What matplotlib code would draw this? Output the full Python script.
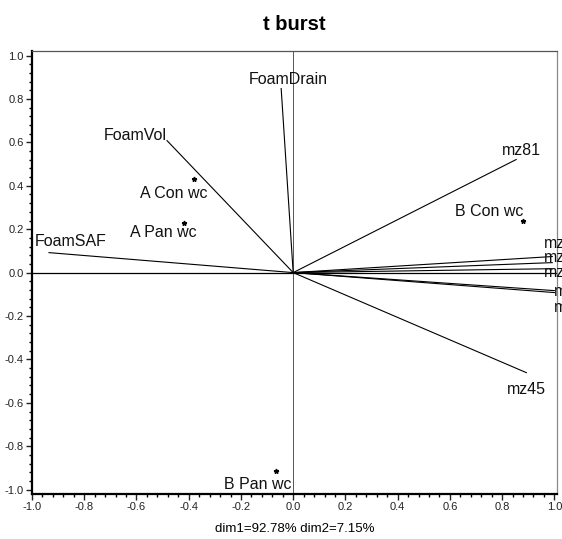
import numpy as np
import matplotlib
matplotlib.use('Agg')
from matplotlib import pyplot as plt
from matplotlib.ticker import MultipleLocator
plt.rcParams['font.family'] = ['Liberation Sans', 'DejaVu Sans']

# Vectores (cargas)
vec_names = ['FoamDrain', 'FoamVol', 'FoamSAF', 'mz81', 'mz45',
             'mz43', 'mz57', 'mz55', 'mz41', 'mz39']
vec_x = [-0.046, -0.483, -0.935, 0.854, 0.893, 0.992, 0.992, 0.992, 1.0, 1.0]
vec_y = [0.848, 0.608, 0.092, 0.521, -0.461, 0.074, 0.046, 0.018, -0.083, -0.092]

# Observaciones
obs_names = ['A Con wc', 'A Pan wc', 'B Con wc', 'B Pan wc']
obs_x = [-0.379, -0.418, 0.88, -0.065]
obs_y = [0.433, 0.23, 0.24, -0.912]

# desplazamientos de etiquetas (pixeles) y alineacion
vec_off = [(7, 5), (0, 1), (-14, 7), (5, 5), (0, -21),
           (-8, 9), (-8, 1), (-8, -8), (0, -5), (0, -19)]
vec_ha = ['center', 'right', 'left', 'center', 'center',
          'left', 'left', 'left', 'left', 'left']
obs_off = [(13, -19), (13, -14), (0, 5), (15, -18)]

fig = plt.figure(figsize=(5.62, 5.39), dpi=100)
ax = fig.add_axes([0.057, 0.0835, 0.934, 0.8215])

ax.axhline(0, color='black', lw=0.9, zorder=1)
ax.axvline(0, color='#555555', lw=0.7, zorder=1)

for i in range(len(vec_names)):
    ax.plot([0, vec_x[i]], [0, vec_y[i]], color='black', lw=0.8)
    ax.annotate(vec_names[i], (vec_x[i], vec_y[i]), xytext=vec_off[i],
                textcoords='offset pixels', ha=vec_ha[i], va='baseline',
                fontsize=11.5, color='#111111', annotation_clip=False)

ax.plot(obs_x, obs_y, ls='none', marker='*', ms=3.5, color='black')
for i in range(len(obs_names)):
    ax.annotate(obs_names[i], (obs_x[i], obs_y[i]), xytext=obs_off[i],
                textcoords='offset pixels', ha='right', va='baseline',
                fontsize=11.5, color='#111111')

ax.set_xlim(-1.0, 1.01)
ax.set_ylim(-1.02, 1.02)
ax.xaxis.set_minor_locator(MultipleLocator(0.04))
ax.yaxis.set_minor_locator(MultipleLocator(0.04))
ax.set_xticks(np.arange(-1.0, 1.01, 0.2))
ax.set_yticks(np.arange(-1.0, 1.01, 0.2))
ax.xaxis.set_major_formatter(lambda v, p: '%.1f' % (0.0 if abs(v) < 1e-9 else v))
ax.yaxis.set_major_formatter(lambda v, p: '%.1f' % (0.0 if abs(v) < 1e-9 else v))
ax.tick_params(which='major', direction='out', length=4, width=1.0,
               labelsize=8, colors='#222222', pad=2)
ax.tick_params(which='minor', direction='out', length=2, width=1.0)

ax.spines['left'].set_linewidth(1.6)
ax.spines['bottom'].set_linewidth(1.6)
ax.spines['top'].set_color('#555555')
ax.spines['right'].set_color('#888888')
ax.spines['top'].set_linewidth(0.9)
ax.spines['right'].set_linewidth(0.9)

ax.set_title('t burst', fontsize=14.5, fontweight='bold', pad=15)
ax.set_xlabel('dim1=92.78% dim2=7.15%', fontsize=9.5, labelpad=8)

fig.savefig('out.png', dpi=100)
